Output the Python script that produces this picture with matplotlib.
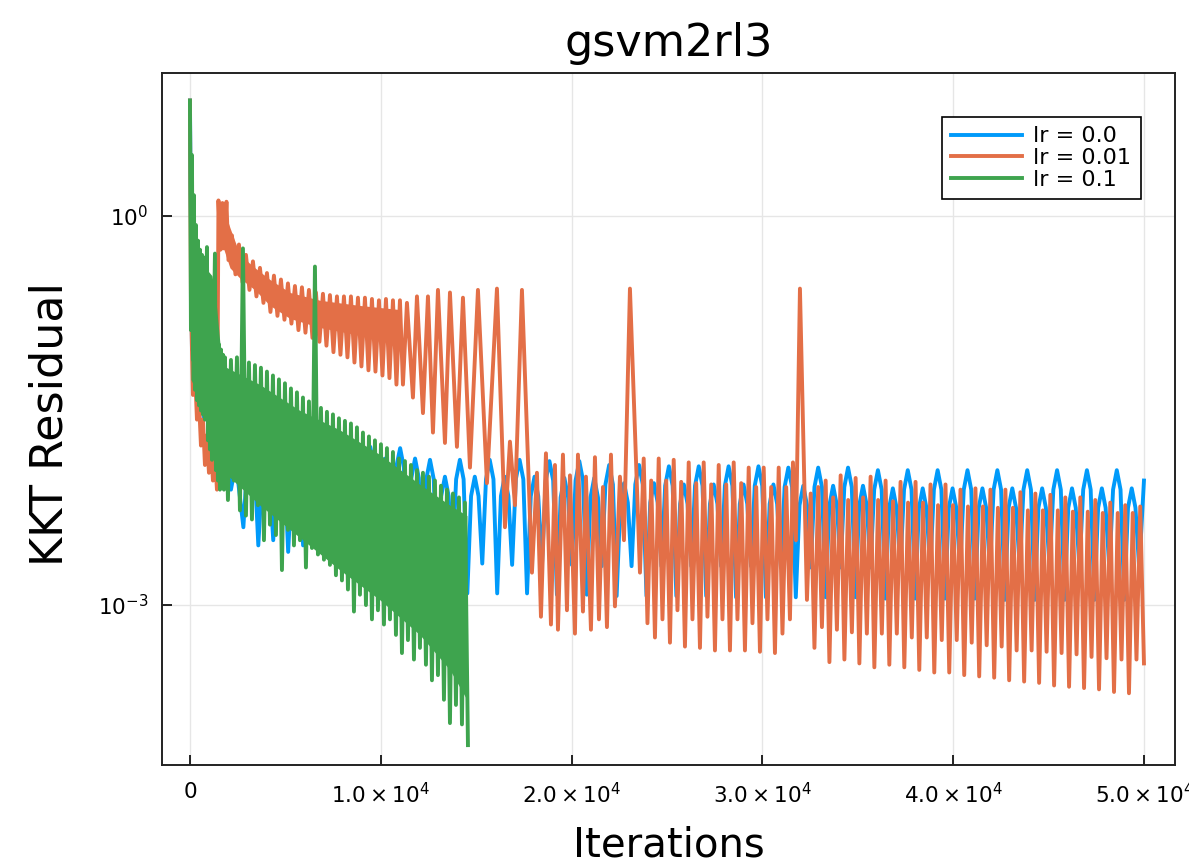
import numpy as np
import matplotlib
matplotlib.use("Agg")
import matplotlib.pyplot as plt
from matplotlib.lines import Line2D

plt.rcParams["font.family"] = ["DejaVu Sans"]
plt.rcParams["mathtext.fontset"] = "dejavusans"

# ---------------------------------------------------------------------------
# KKT residual history on gsvm2rl3 for three learning rates.
# Residuals are kept as log10 values.  Each run is made of pieces:
#   *_iter + *_log : explicit (iteration, log10 residual) vertices
#   *_span + *_log : samples evenly spaced between the two span iterations
# Where a run oscillates too fast to resolve, *_core_* holds the edges of the
# solidly inked band.
# ---------------------------------------------------------------------------

series_labels = ["lr = 0.0", "lr = 0.01", "lr = 0.1"]
series_colors = ["#009AFA", "#E36F47", "#3EA44E"]

# ---- lr = 0.0 -------------------------------------------------------------
lr0_head_iter = [0, 105, 210, 367, 524, 734, 943, 1153, 1362, 1625, 1887, 2149, 2411]
lr0_head_log = [0.89, -1.03, -0.80, -1.34, -1.19, -1.57, -1.38, -1.73, -1.53,
                -1.92, -1.65, -2.11, -1.90]

lr0_arch_span = (2800, 49750)
lr0_arch_log = [
    -2.40, -1.92, -1.77, -1.92, -2.54, -2.02, -1.87, -2.02,
    -2.50, -1.92, -1.77, -1.92, -2.59, -2.02, -1.87, -2.02,
    -2.54, -1.92, -1.78, -1.92, -2.60, -2.02, -1.87, -2.02,
    -2.65, -1.93, -1.78, -1.93, -2.77, -2.02, -1.87, -2.02,
    -2.65, -1.93, -1.78, -1.93, -2.85, -2.02, -1.87, -2.02,
    -2.68, -1.93, -1.79, -1.94, -2.88, -2.02, -1.87, -2.02,
    -2.68, -2.03, -1.88, -2.03, -2.90, -2.16, -2.01, -2.16,
    -2.68, -2.03, -1.88, -2.03, -2.91, -2.16, -2.01, -2.16,
    -2.68, -2.03, -1.88, -2.03, -2.91, -2.16, -2.01, -2.16,
    -2.69, -2.03, -1.88, -2.03, -2.91, -2.16, -2.01, -2.16,
    -2.69, -2.04, -1.89, -2.04, -2.92, -2.17, -2.02, -2.17,
    -2.69, -2.04, -1.89, -2.04, -2.92, -2.17, -2.02, -2.17,
    -2.70, -2.07, -1.92, -2.07, -2.93, -2.21, -2.06, -2.21,
    -2.70, -2.07, -1.92, -2.07, -2.93, -2.21, -2.06, -2.21,
    -2.70, -2.08, -1.93, -2.08, -2.93, -2.22, -2.07, -2.22,
    -2.70, -2.08, -1.93, -2.08, -2.93, -2.22, -2.07, -2.22,
    -2.70, -2.08, -1.93, -2.08, -2.94, -2.22, -2.07, -2.22,
    -2.70, -2.08, -1.93, -2.08, -2.94, -2.22, -2.07, -2.22,
    -2.71, -2.09, -1.94, -2.09, -2.94, -2.23, -2.08, -2.23,
    -2.71, -2.09, -1.94, -2.09, -2.94, -2.23, -2.08, -2.23,
    -2.71, -2.09, -1.94, -2.09, -2.94, -2.23, -2.08, -2.23,
    -2.71, -2.11, -1.96, -2.11, -2.95, -2.25, -2.10, -2.25,
    -2.71, -2.11, -1.96, -2.11, -2.95, -2.25, -2.10, -2.25,
    -2.72, -2.11, -1.96, -2.11, -2.95, -2.25, -2.10, -2.25,
    -2.72, -2.11, -1.96, -2.11, -2.95, -2.25, -2.10, -2.25,
    -2.72, -2.11, -1.96, -2.11, -2.96, -2.25, -2.10, -2.25,
    -2.72, -2.11, -1.96, -2.11, -2.96, -2.25, -2.10, -2.25,
    -2.72, -2.11, -1.96, -2.11, -2.96, -2.25, -2.10, -2.25,
    -2.72, -2.11, -1.96, -2.11, -2.96, -2.25, -2.10, -2.25,
    -2.72, -2.11, -1.96, -2.11, -2.96, -2.25, -2.10, -2.25,
    -2.72,
]
lr0_tail_iter = [50000]
lr0_tail_log = [-2.04]

# ---- lr = 0.01 ------------------------------------------------------------
lr001_head_iter = [0, 52, 157, 262, 367, 472, 577, 681, 786, 891, 996, 1101, 1205,
                   1310, 1415, 1494, 1598, 1703, 1808, 1913, 2018]
lr001_head_log = [0.89, -0.65, -1.38, -1.19, -1.57, -1.42, -1.77, -1.57, -1.92,
                  -1.69, -1.98, -1.77, -2.04, -1.84, -2.11, 0.12, -0.26, 0.10,
                  -0.22, 0.11, -0.34]

lr001_band_span = (2201, 11006)
lr001_band_log = [
    -0.15, -0.45, -0.22, -0.51, -0.30, -0.57, -0.35, -0.62, -0.40, -0.67,
    -0.44, -0.74, -0.46, -0.77, -0.49, -0.80, -0.52, -0.83, -0.54, -0.88,
    -0.55, -0.90, -0.57, -0.94, -0.59, -0.97, -0.60, -1.00, -0.61, -1.05,
    -0.62, -1.07, -0.62, -1.09, -0.62, -1.13, -0.63, -1.16, -0.63, -1.19,
    -0.64, -1.20, -0.65, -1.23, -0.64, -1.25, -0.65, -1.30, -0.65,
]

lr001_core_iter = [1520, 1782, 2096, 2621, 3407, 4193, 5241, 6813, 8909, 10901]
lr001_core_upper_log = [0.08, 0.05, -0.09, -0.30, -0.40, -0.49, -0.59, -0.65, -0.69, -0.72]
lr001_core_lower_log = [-0.26, -0.26, -0.40, -0.48, -0.57, -0.69, -0.79, -0.86, -0.92, -0.99]

lr001_mid_iter = [11163, 11373, 11687, 11897, 12212, 12474, 12736, 12998, 13365,
                  13627, 13993, 14308, 14675, 15094, 15566, 16090, 16509, 16771,
                  17033, 17400, 17924, 18186, 18396, 18658, 18920, 19130, 19287,
                  19549, 19759, 19916, 20178, 20335, 20597, 20754, 21016, 21226,
                  21436, 21645, 21855, 22065, 22274, 22536, 22746, 23060]
lr001_mid_log = [-1.30, -0.67, -1.40, -0.62, -1.52, -0.62, -1.67, -0.57, -1.75,
                 -0.59, -1.78, -0.63, -1.94, -0.57, -2.06, -0.56, -2.40, -1.74,
                 -2.23, -0.57, -2.75, -1.98, -3.09, -1.83, -3.15, -1.92, -3.19,
                 -1.84, -3.04, -2.00, -3.22, -1.84, -3.05, -2.01, -3.19, -1.86,
                 -3.11, -2.09, -3.17, -1.84, -3.01, -2.01, -2.50, -0.56]

lr001_osc_span = (23585, 31446)
lr001_osc_log = [
    -2.75, -1.87, -3.14, -2.04, -3.25, -1.87, -3.11, -2.04, -3.29, -1.88,
    -3.04, -2.05, -3.32, -1.90, -3.11, -2.06, -3.33, -1.90, -3.09, -2.07,
    -3.35, -1.92, -3.11, -2.07, -3.35, -1.90, -3.11, -2.06, -3.35, -1.94,
    -3.14, -2.09, -3.36, -1.94, -3.11, -2.09, -3.37, -1.94, -3.22, -2.09,
    -3.11,
]

lr001_spike_iter = [31603, 31760, 31970]
lr001_spike_log = [-1.90, -2.50, -0.56]

lr001_tail_span = (32337, 50000)
lr001_tail_log = [
    -2.96, -2.14, -3.33, -2.09, -3.17, -2.04, -3.44, -2.17, -3.19, -2.00,
    -3.42, -2.19, -3.21, -2.02, -3.45, -2.17, -3.22, -2.01, -3.48, -2.19,
    -3.22, -2.04, -3.46, -2.20, -3.22, -2.05, -3.48, -2.21, -3.25, -2.05,
    -3.50, -2.21, -3.25, -2.07, -3.52, -2.23, -3.27, -2.07, -3.52, -2.23,
    -3.27, -2.11, -3.54, -2.24, -3.29, -2.10, -3.55, -2.24, -3.31, -2.11,
    -3.56, -2.25, -3.32, -2.11, -3.58, -2.25, -3.35, -2.13, -3.59, -2.27,
    -3.35, -2.14, -3.60, -2.27, -3.36, -2.15, -3.62, -2.27, -3.37, -2.17,
    -3.63, -2.28, -3.38, -2.17, -3.64, -2.28, -3.40, -2.19, -3.65, -2.29,
    -3.41, -2.21, -3.67, -2.29, -3.42, -2.23, -3.68, -2.29, -3.42, -2.24,
    -3.45,
]

# ---- lr = 0.1 -------------------------------------------------------------
lr01_head_iter = [0, 52, 105, 157, 210, 262, 314, 367, 419, 472, 524, 577, 629,
                  681, 734, 786, 891, 943, 996, 1048, 1101, 1153, 1310, 1362,
                  1415, 1467, 1520, 1572, 1625, 1677, 1730, 1782]
lr01_head_log = [0.89, -0.88, 0.47, -1.11, 0.16, -1.34, -0.07, -1.42, -0.19,
                 -1.46, -0.26, -1.50, -0.30, -1.53, -0.32, -1.57, -0.24, -1.73,
                 -0.65, -1.80, -0.88, -1.88, -0.29, -1.96, -0.96, -2.04, -0.99,
                 -2.11, -1.03, -1.96, -1.07, -2.11]

lr01_band_span = (1834, 14570)
lr01_band_log = [
    -1.09, -2.19, -1.11, -2.04, -1.09, -2.27, -0.25, -2.31, -1.13, -2.34,
    -1.15, -2.23, -1.17, -2.50, -1.20, -2.38, -1.23, -2.46, -1.26, -2.73,
    -1.29, -2.42, -1.33, -2.54, -1.36, -2.50, -1.40, -2.71, -1.43, -2.56,
    -0.39, -2.61, -1.48, -2.65, -1.51, -2.69, -1.53, -2.77, -1.56, -2.81,
    -1.58, -2.88, -1.60, -3.05, -1.63, -2.92, -1.67, -3.00, -1.70, -3.11,
    -1.73, -3.04, -1.76, -3.15, -1.79, -3.11, -1.82, -3.23, -1.87, -3.37,
    -1.89, -3.27, -1.92, -3.42, -1.96, -3.33, -1.98, -3.46, -2.01, -3.58,
    -2.04, -3.54, -2.08, -3.73, -2.11, -3.91, -2.14, -3.77, -2.17, -3.92,
    -2.21, -4.08,
]

lr01_core_iter = [52, 524, 1153, 1362, 1677, 3669, 5765, 7862, 9958, 12054, 13627, 14518]
lr01_core_upper_log = [-0.26, -0.35, -0.46, -0.65, -1.15, -1.30, -1.50, -1.65,
                       -1.84, -2.07, -2.23, -2.31]
lr01_core_lower_log = [-1.26, -1.42, -1.65, -1.80, -1.96, -2.23, -2.48, -2.73,
                       -2.96, -3.23, -3.50, -3.73]

# axis ticks
x_ticks = [0, 10000, 20000, 30000, 40000, 50000]
x_tick_labels = ["0", r"$1.0\times10^{4}$", r"$2.0\times10^{4}$",
                 r"$3.0\times10^{4}$", r"$4.0\times10^{4}$", r"$5.0\times10^{4}$"]
y_ticks = [1e0, 1e-3]
y_tick_labels = [r"$10^{0}$", r"$10^{-3}$"]


def explicit(iters, logs):
    return np.asarray(iters, float), np.asarray(logs, float)


def even(span, logs):
    return np.linspace(span[0], span[1], len(logs)), np.asarray(logs, float)


def join(*parts):
    x = np.concatenate([p[0] for p in parts])
    y = np.power(10.0, np.concatenate([p[1] for p in parts]))
    return x, y


runs = [
    join(explicit(lr0_head_iter, lr0_head_log),
         even(lr0_arch_span, lr0_arch_log),
         explicit(lr0_tail_iter, lr0_tail_log)),
    join(explicit(lr001_head_iter, lr001_head_log),
         even(lr001_band_span, lr001_band_log),
         explicit(lr001_mid_iter, lr001_mid_log),
         even(lr001_osc_span, lr001_osc_log),
         explicit(lr001_spike_iter, lr001_spike_log),
         even(lr001_tail_span, lr001_tail_log)),
    join(explicit(lr01_head_iter, lr01_head_log),
         even(lr01_band_span, lr01_band_log)),
]
cores = [
    None,
    (lr001_core_iter, lr001_core_lower_log, lr001_core_upper_log),
    (lr01_core_iter, lr01_core_lower_log, lr01_core_upper_log),
]

fig = plt.figure(figsize=(11.89, 8.68), dpi=100)
ax = fig.add_axes([0.1362, 0.1187, 0.8520, 0.7972])

lw = 2.8
z = 2.0
for (x, y), core, color, label in zip(runs, cores, series_colors, series_labels):
    if core is not None:
        ci, lo, hi = core
        ax.fill_between(ci, np.power(10.0, lo), np.power(10.0, hi),
                        color=color, lw=0, zorder=z)
    ax.plot(x, y, color=color, lw=lw, label=label,
            solid_joinstyle="round", zorder=z + 0.05)
    z += 0.1

ax.set_yscale("log")
ax.set_xlim(-1468, 51625)
ax.set_ylim(10 ** -4.233, 10 ** 1.1025)

ax.set_xticks(x_ticks)
ax.set_xticklabels(x_tick_labels)
ax.set_yticks(y_ticks)
ax.set_yticklabels(y_tick_labels)
ax.minorticks_off()
ax.yaxis.set_minor_locator(matplotlib.ticker.NullLocator())

ax.tick_params(axis="both", direction="in", length=7, width=1.2,
               labelsize=15.5, color="black")
ax.tick_params(axis="x", pad=12)
ax.tick_params(axis="y", pad=10)

ax.grid(True, color="#e6e6e6", linewidth=1.0)
ax.set_axisbelow(True)

for side in ["left", "bottom", "top", "right"]:
    ax.spines[side].set_color("#222222")
    ax.spines[side].set_linewidth(1.4)

ax.set_title("gsvm2rl3", fontsize=32, pad=12)
ax.set_xlabel("Iterations", fontsize=29)
ax.set_ylabel("KKT Residual", fontsize=32)
ax.xaxis.set_label_coords(0.5, -0.088)
ax.yaxis.set_label_coords(-0.0888, 0.493)

handles = [Line2D([0], [0], color=c, lw=lw) for c in series_colors]
leg = ax.legend(handles, series_labels, loc="upper right",
                bbox_to_anchor=(0.966, 0.936), borderaxespad=0,
                fontsize=16, frameon=True, fancybox=False, framealpha=1,
                edgecolor="black", handlelength=3.2, handletextpad=0.5,
                labelspacing=0.07, borderpad=0.41)
leg.get_frame().set_linewidth(1.2)
leg.set_zorder(5)

fig.savefig("out.png", dpi=100)
